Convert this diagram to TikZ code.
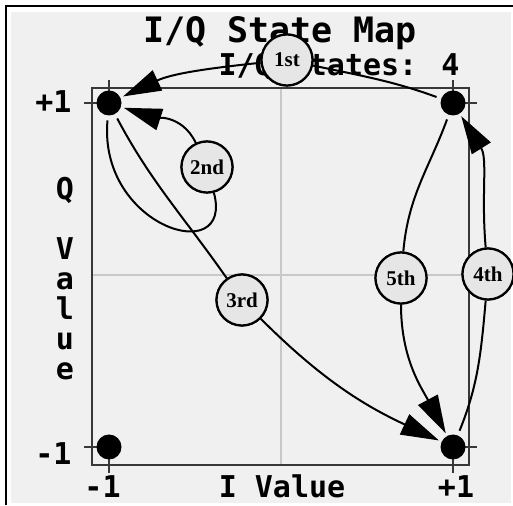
\documentclass[tikz,border=0pt]{standalone}
\usepackage{fontspec}
\setmainfont{Liberation Serif}
\newfontfamily\pixfont{DejaVu Sans Mono}
\usetikzlibrary{arrows.meta}
\definecolor{bggray}{HTML}{F0F0F0}
\definecolor{labgray}{HTML}{E6E6E6}
\definecolor{gridgray}{HTML}{C8C8C8}
\definecolor{boxgray}{HTML}{383838}
\begin{document}
\begin{tikzpicture}[x=1pt,y=1pt,
  dot/.style={circle,fill=black,inner sep=0pt,minimum size=25pt,outer sep=0pt},
  lab/.style={circle,draw=black,line width=2.2pt,fill=labgray,inner sep=0pt,minimum size=51pt,
    font=\fontsize{21}{21}\selectfont\bfseries},
  txt/.style={inner sep=0pt,anchor=base,font=\pixfont\bfseries\fontsize{30}{30}\selectfont},
  ttl/.style={inner sep=0pt,anchor=base,font=\pixfont\bfseries\fontsize{35}{35}\selectfont},
  fromdot/.style={line width=2pt,shorten <=5pt},
  todot/.style={line width=2pt,shorten >=3pt,-{Triangle[length=38pt,width=22pt]}},
  tick/.style={boxgray,line width=1.5pt}
]
\useasboundingbox (0,0) rectangle (513,505);
% background and frame
\fill[bggray] (11,2) rectangle (511,493);
\draw[line width=2.5pt] (6,0) -- (6,499) -- (513,499);
% grid and box
\draw[gridgray,line width=2pt] (280.5,40) -- (280.5,417);
\draw[gridgray,line width=2pt] (92,229.5) -- (469,229.5);
\draw[boxgray,line width=2.5pt] (92,40) rectangle (469,417);
% ticks
\draw[tick] (109,409) -- (109,425);
\draw[tick] (453,409) -- (453,425);
\draw[tick] (109,32) -- (109,48);
\draw[tick] (453,32) -- (453,48);
\draw[tick] (84,402) -- (100,402);
\draw[tick] (84,58) -- (100,58);
\draw[tick] (461,402) -- (477,402);
\draw[tick] (461,58) -- (477,58);
% texts
\node[ttl] (title) at (280,462) {I/Q State Map};
\node[txt] (states) at (339,429) {I/Q States: 4};
\node[txt] (yp) at (53.5,392) {+1};
\node[txt] (ym) at (53.5,40) {-1};
\node[txt] (xm) at (102.5,7) {-1};
\node[txt] (xlab) at (282,7) {I Value};
\node[txt] (xp) at (456,7) {+1};
\node[txt] (q1) at (65,305) {Q};
\node[txt] (q2) at (65,245) {V};
\node[txt] (q3) at (65,215) {a};
\node[txt] (q4) at (65,185) {l};
\node[txt] (q5) at (65,155) {u};
\node[txt] (q6) at (65,125) {e};
% states
\node[dot] (A) at (109,402) {};
\node[dot] (B) at (453,402) {};
\node[dot] (C) at (109,58) {};
\node[dot] (D) at (453,58) {};
% labels (positions)
\node[lab] (L1) at (287,445) {1st};
\node[lab] (L2) at (207,338) {2nd};
\node[lab] (L3) at (242,205) {3rd};
\node[lab] (L5) at (401,227) {5th};
\node[lab] (L4) at (488,231) {4th};
% connectors
\draw[fromdot] (B) to[out=160,in=-12] (L1);
\draw[todot] (L1) to[out=186,in=25] (A);
\draw[fromdot] (A) .. controls +(-95:125) and +(-75:105) .. (L2);
\draw[todot] (L2) to[out=115,in=-18] (A);
\draw[fromdot] (A) to[out=-62,in=125] (L3);
\draw[todot] (L3) to[out=-45,in=155] (D);
\draw[fromdot] (D) to[out=68,in=-95] (L4);
\draw[todot] (L4) to[out=95,in=-58] (B);
\draw[fromdot] (B) to[out=-110,in=85] (L5);
\draw[todot] (L5) to[out=-90,in=118] (D);
% labels redrawn on top of the connectors
\node[lab] at (L1) {1st};
\node[lab] at (L2) {2nd};
\node[lab] at (L3) {3rd};
\node[lab] at (L5) {5th};
\node[lab] at (L4) {4th};
\end{tikzpicture}
\end{document}
